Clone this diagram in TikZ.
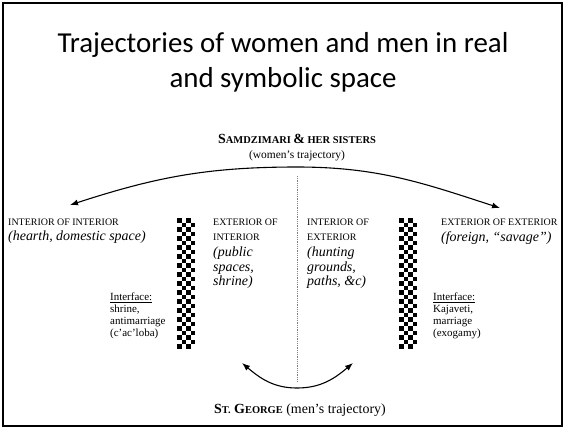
\documentclass[tikz,border=0pt]{standalone}
\usepackage{fontspec}
\setmainfont{Liberation Serif}
\newfontfamily\titlefont{Carlito}
\usetikzlibrary{arrows.meta,positioning}
\tikzstyle{titletext}=[font=\titlefont\fontsize{29}{35}\selectfont, align=center, inner sep=0pt]
\tikzstyle{headtext}=[font=\bfseries, inner sep=0pt, anchor=base]
\tikzstyle{subtext}=[font=\fontsize{11.5}{13}\selectfont, inner sep=0pt, anchor=base]
\tikzstyle{caplabel}=[font=\fontsize{10}{15}\selectfont, align=left, inner sep=0pt, anchor=north west]
\tikzstyle{itlabel}=[font=\itshape\fontsize{14}{14.5}\selectfont, align=left, inner sep=0pt, anchor=north west]
\tikzstyle{iflabel}=[font=\fontsize{11}{12}\selectfont, align=left, inner sep=0pt, anchor=north west]
\tikzstyle{traj} = [draw, line width=1.1bp, -{Latex[length=8bp,width=6bp]}]
\tikzstyle{divider} = [draw, gray, densely dotted, line width=0.8bp]
\newcommand\smc[1]{{\fontsize{10.5}{11}\selectfont #1}}
% checkered column: lower left x, top y
\newcommand\checkcol[2]{%
  \foreach \r in {0,...,28}{%
    \foreach \c in {0,...,3}{%
      \pgfmathtruncatemacro\chk{mod(\r+\c,2)}%
      \ifnum\chk=0 \fill (#1+\c*4.5, #2-\r*4.5) rectangle ++(4.5,-4.5);\fi
    }}}

\begin{document}
\begin{tikzpicture}[x=1bp, y=1bp]

   \useasboundingbox (0,0) rectangle (565,-429);
   \draw[line width=2.5bp] (3,-3) rectangle (562,-426);

   \node[titletext, anchor=north] (title) at (283,-32) {Trajectories of women and men in real\\and symbolic space};

   \node[headtext] (samdz) at (297,-143) {{\fontsize{14}{15}\selectfont S}\smc{AMDZIMARI} {\fontsize{14}{15}\selectfont\&} \smc{HER SISTERS}};
   \node[subtext] (womtraj) at (297,-158) {(women’s trajectory)};

   % dotted divider
   \coordinate (divtop) at (297,-176);
   \coordinate (divbot) at (297,-381);
   \draw[divider] (divtop) -- (divbot);

   % women's trajectory
   \coordinate (wtop) at (297,-167);
   \coordinate (wleft) at (70,-205);
   \coordinate (wright) at (500,-208);
   \draw[traj] (wtop) to[out=180,in=18] (wleft);
   \draw[traj] (wtop) to[out=0,in=162] (wright);

   % men's trajectory
   \coordinate (mbot) at (297,-388);
   \coordinate (mleft) at (242,-363);
   \coordinate (mright) at (353,-363);
   \draw[traj] (mbot) to[out=180,in=-40] (mleft);
   \draw[traj] (mbot) to[out=0,in=220] (mright);

   % interfaces
   \checkcol{177}{-218}
   \checkcol{399}{-218}

   \node[caplabel] (intint) at (8,-219) {INTERIOR OF INTERIOR};
   \node[itlabel] (intintd) at (8,-231) {(hearth, domestic space)};

   \node[caplabel] (extint) at (213,-219) {EXTERIOR OF\\INTERIOR};
   \node[itlabel] (extintd) at (213,-247) {(public\\spaces,\\shrine)};

   \node[caplabel] (intext) at (307,-219) {INTERIOR OF\\EXTERIOR};
   \node[itlabel] (intextd) at (307,-247) {(hunting\\grounds,\\paths, \&c)};

   \node[caplabel] (extext) at (441,-219) {EXTERIOR OF EXTERIOR};
   \node[itlabel] (extextd) at (441,-231) {(foreign, “savage”)};

   \node[iflabel] (ifaceL) at (110,-293) {\underline{Interface:}\\shrine,\\antimarriage\\(c’ac’loba)};
   \node[iflabel] (ifaceR) at (433,-293) {\underline{Interface:}\\Kajaveti,\\marriage\\(exogamy)};

   \node[headtext, font=\bfseries\fontsize{14}{15}\selectfont] (stgeorge) at (300,-413) {S\smc{T.} G\smc{EORGE} {\mdseries (men’s trajectory)}};

\end{tikzpicture}
\end{document}
